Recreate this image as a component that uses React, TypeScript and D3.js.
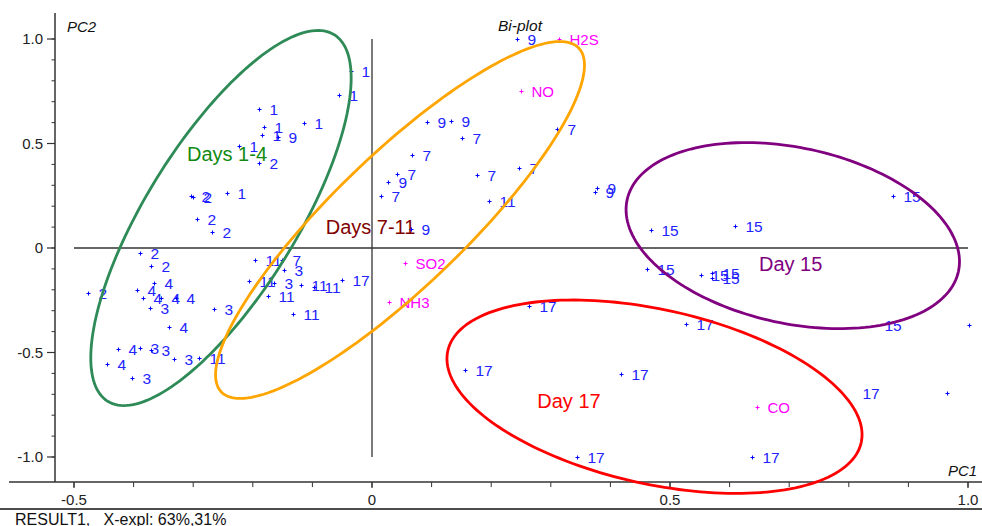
import React from 'react';
import * as d3 from 'd3';

const WIDTH = 982;
const HEIGHT = 526;

// Sample scores (PC1, PC2) and their day labels
const scoreLabels = [
  '1','1','1','1','1','1','1','1',
  '2','2','2','2','2','2','2','2',
  '4','4','4','4','4','4','4','4',
  '3','3','3','3','3','3','3','3',
  '11','11','11','11','11','11','11','11',
  '7','7','7','7','7','7','7','7',
  '9','9','9','9','9','9','9','9',
  '15','15','15','15','15','15','15','15',
  '17','17','17','17','17','17','17','17',
];
const scorePC1 = [
  -0.189,-0.182,-0.185,-0.114,-0.223,-0.036,-0.056,-0.244,
  -0.189,-0.3035,-0.301,-0.294,-0.269,-0.389,-0.370,-0.477,
  -0.366,-0.395,-0.385,-0.354,-0.329,-0.341,-0.426,-0.444,
  -0.372,-0.265,-0.390,-0.370,-0.333,-0.403,-0.148,-0.164,
  -0.290,-0.197,-0.206,-0.175,-0.119,-0.097,-0.132,0.197,
  -0.1515,0.1515,0.0676,0.0424,0.0151,0.1767,0.2466,0.311,
  0.2438,0.0918,0.132,0.0263,0.374,0.377,-0.157,0.0654,
  0.875,0.4676,0.609,0.462,0.552,0.571,0.571,1.002,
  -0.050,0.264,0.5274,0.156,0.418,0.3445,0.637,0.965,
];
const scorePC2 = [
  0.664,0.580,0.539,0.597,0.488,0.847,0.731,0.262,
  0.405,0.247,0.242,0.137,0.075,-0.025,-0.088,-0.214,
  -0.166,-0.202,-0.241,-0.241,-0.241,-0.377,-0.482,-0.555,
  -0.289,-0.293,-0.480,-0.488,-0.533,-0.624,-0.105,-0.169,
  -0.528,-0.059,-0.158,-0.231,-0.178,-0.185,-0.317,0.223,
  -0.057,0.528,0.445,0.356,0.247,0.349,0.381,0.569,
  0.9986,0.603,0.609,0.314,0.269,0.286,0.530,0.0895,
  0.249,0.086,0.105,-0.100,-0.129,-0.118,-0.145,-0.368,
  -0.153,-0.2775,-0.365,-0.585,-0.601,-1.001,-1.001,-0.695,
];

// Variable loadings
const varNames = ['H2S', 'NO', 'SO2', 'NH3', 'CO'];
const varPC1 = [0.3143, 0.2505, 0.0549, 0.0285, 0.6455];
const varPC2 = [0.9986, 0.751, -0.0718, -0.26, -0.762];

// Group ellipses: centre and semi-axis vectors (data units)
const groupNames = ['Days 1-4', 'Days 7-11', 'Day 15', 'Day 17'];
const groupColors = ['#2e8b57', '#ffa500', '#800080', '#ff0000'];
const groupTextColors = ['#108a10', '#800000', '#800080', '#ff0000'];
const groupCX = [-0.2534, 0.047, 0.706, 0.474];
const groupCY = [0.1435, 0.134, 0.0593, -0.7115];
const groupMajX = [0.190, 0.2998, 0.278, 0.3468];
const groupMajY = [0.877, 0.823, -0.1708, -0.2196];
const groupMinX = [0.1078, 0.0769, -0.031, -0.0317];
const groupMinY = [-0.190, -0.2278, -0.411, -0.4072];
const groupLabelPC1 = [-0.3104, -0.0777, 0.6493, 0.2773];
const groupLabelPC2 = [0.4163, 0.067, -0.1086, -0.7656];

const xTicksMajor = [-0.5, 0, 0.5, 1.0];
const xTickLabels = ['-0.5', '0', '0.5', '1.0'];
const yTicksMajor = [1.0, 0.5, 0, -0.5, -1.0];
const yTickLabels = ['1.0', '0.5', '0', '-0.5', '-1.0'];

const FONT = "'Liberation Sans', Arial, Helvetica, sans-serif";

export default function App() {
  const x = d3.scaleLinear().domain([-0.5, 1.0]).range([74, 968]);
  const y = d3.scaleLinear().domain([-1, 1]).range([457, 39]);

  const xMinor = d3.range(-5, 11).map((d) => d / 10);
  const yMinor = d3.range(-10, 11).map((d) => d / 10);

  const axisY = y(-1.12);
  const axisX = 55;

  const line = d3.line<[number, number]>().x((d) => x(d[0])).y((d) => y(d[1])).curve(d3.curveLinearClosed);
  const ellipsePath = (i: number) => {
    const pts: [number, number][] = d3.range(0, 360, 2).map((deg) => {
      const t = (deg * Math.PI) / 180;
      return [
        groupCX[i] + Math.cos(t) * groupMajX[i] + Math.sin(t) * groupMinX[i],
        groupCY[i] + Math.cos(t) * groupMajY[i] + Math.sin(t) * groupMinY[i],
      ];
    });
    return line(pts) || '';
  };

  const labelPos = (px: number) => (px > 930 ? px - 85 : px + 10);

  return (
    <svg
      width={WIDTH}
      height={HEIGHT}
      style={{ position: 'absolute', left: 0, top: 0, display: 'block', background: '#fff' }}
      fontFamily={FONT}
    >
      {/* zero lines */}
      <line x1={x(-0.5)} x2={x(1.0)} y1={y(0)} y2={y(0)} stroke="#333" strokeWidth={1.3} />
      <line x1={x(0)} x2={x(0)} y1={y(1)} y2={y(-1)} stroke="#333" strokeWidth={1.3} />

      {/* y axis */}
      <line x1={axisX} x2={axisX} y1={13} y2={axisY} stroke="#333" strokeWidth={1.5} />
      {yMinor.map((v) => (
        <line key={'ym' + v} x1={axisX - 3.5} x2={axisX} y1={y(v)} y2={y(v)} stroke="#333" strokeWidth={1} />
      ))}
      {yTicksMajor.map((v, i) => (
        <g key={'yt' + v}>
          <line x1={axisX - 8} x2={axisX} y1={y(v)} y2={y(v)} stroke="#333" strokeWidth={1.2} />
          <text x={axisX - 12} y={y(v) + 5.3} textAnchor="end" fontSize={15} fill="#222">
            {yTickLabels[i]}
          </text>
        </g>
      ))}

      {/* x axis */}
      <line x1={9} x2={WIDTH} y1={axisY} y2={axisY} stroke="#333" strokeWidth={1.5} />
      {xMinor.map((v) => (
        <line key={'xm' + v} x1={x(v)} x2={x(v)} y1={axisY} y2={axisY + 5} stroke="#333" strokeWidth={1} />
      ))}
      {xTicksMajor.map((v, i) => (
        <g key={'xt' + v}>
          <line x1={x(v)} x2={x(v)} y1={axisY} y2={axisY + 6} stroke="#333" strokeWidth={1.2} />
          <text x={x(v)} y={505} textAnchor="middle" fontSize={15} fill="#222">
            {xTickLabels[i]}
          </text>
        </g>
      ))}

      <line x1={0} x2={WIDTH} y1={509} y2={509} stroke="#111" strokeWidth={1.5} />
      <text x={15} y={524.5} fontSize={16} fill="#111" style={{ whiteSpace: 'pre' }}>
        {'RESULT1,   X-expl: 63%,31%'}
      </text>

      {/* axis titles */}
      <text x={67} y={32} fontSize={15} fontStyle="italic" fill="#111">PC2</text>
      <text x={948} y={476} fontSize={15} fontStyle="italic" fill="#111">PC1</text>
      <text x={498} y={31} fontSize={15.5} fontStyle="italic" fill="#111">Bi-plot</text>

      {/* group labels */}
      {groupNames.map((g, i) => (
        <text key={g} x={x(groupLabelPC1[i])} y={y(groupLabelPC2[i])} fontSize={20} fill={groupTextColors[i]}>
          {g}
        </text>
      ))}

      {/* scores */}
      {scorePC1.map((v, i) => {
        const px = Math.round(x(v)) + 0.5;
        const py = Math.round(y(scorePC2[i])) + 0.5;
        return (
          <g key={'s' + i}>
            <path d={`M${px - 2},${py}H${px + 2}M${px},${py - 2}V${py + 2}`} stroke="#0000ff" strokeWidth={1} />
            <text x={labelPos(px)} y={py + 5.5} fontSize={15.5} fill="#2222ff">
              {scoreLabels[i]}
            </text>
          </g>
        );
      })}

      {/* loadings */}
      {varPC1.map((v, i) => {
        const px = Math.round(x(v)) + 0.5;
        const py = Math.round(y(varPC2[i])) + 0.5;
        return (
          <g key={'v' + i}>
            <path d={`M${px - 2},${py}H${px + 2}M${px},${py - 2}V${py + 2}`} stroke="#ff00ff" strokeWidth={1} />
            <text x={px + 10} y={py + 5.5} fontSize={15} fill="#ff00ff">
              {varNames[i]}
            </text>
          </g>
        );
      })}

      {/* ellipses */}
      {groupNames.map((g, i) => (
        <path key={'e' + g} d={ellipsePath(i)} fill="none" stroke={groupColors[i]} strokeWidth={2.8} />
      ))}
    </svg>
  );
}
